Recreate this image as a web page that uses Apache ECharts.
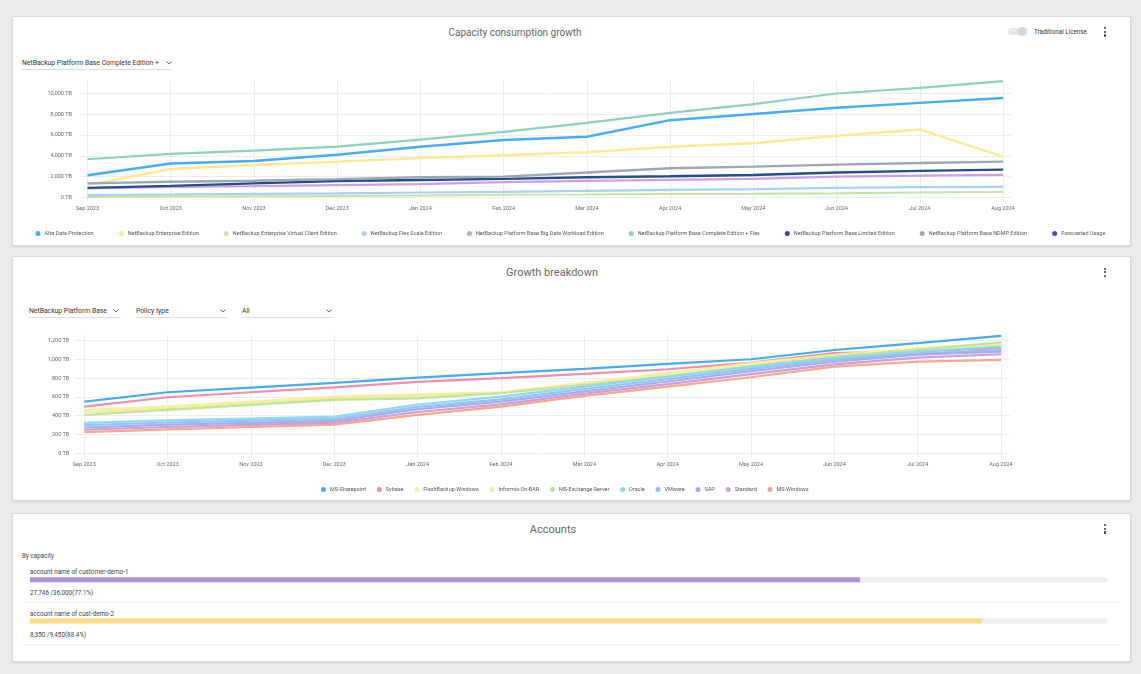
<!DOCTYPE html>
<html>
<head>
<meta charset="utf-8">
<script src="https://cdn.jsdelivr.net/npm/echarts@6/dist/echarts.min.js"></script>
<style>
  body { margin: 0; background: #ebebeb; font-family: Roboto, 'Noto Sans', sans-serif; }
  #page { position: relative; width: 1141px; height: 674px; overflow: hidden; }
  .card { position: absolute; left: 12px; width: 1117px; background: #fff; border: 1px solid #d8d8d8; box-shadow: 0 1px 2px rgba(0,0,0,0.10); }
  .title { position: absolute; color: #666; white-space: nowrap; transform: translate(-50%, -50%); }
  .kebab { position: absolute; width: 3px; }
  .kebab i { display: block; width: 2.4px; height: 2.4px; border-radius: 50%; background: #333; margin-bottom: 1.2px; }
  .dd { position: absolute; height: 11px; line-height: 10px; font-size: 6.8px; color: #333; border-bottom: 1px solid #dedede; white-space: nowrap; }
  .dd svg { position: absolute; top: 3px; }
  .txt { position: absolute; font-size: 6.3px; color: #444; white-space: nowrap; transform: translateY(-50%); }
  .sep { position: absolute; left: 22px; width: 1098px; height: 1px; background: #eeeeee; }
  #chart { position: absolute; left: 0; top: 0; width: 1141px; height: 674px; }
</style>
</head>
<body>
<div id="page">
  <div class="card" style="top:16px;height:228px"></div>
  <div class="card" style="top:256px;height:243px"></div>
  <div class="card" style="top:513px;height:147px"></div>

  <div class="title" style="left:515px;top:31.5px;font-size:10px">Capacity consumption growth</div>
  <div class="title" style="left:552px;top:272px;font-size:11px">Growth breakdown</div>
  <div class="title" style="left:553px;top:528.5px;font-size:11px">Accounts</div>

  <div style="position:absolute;left:1008px;top:28px;width:19px;height:7px;border-radius:4px;background:#e6e6e6"></div>
  <div style="position:absolute;left:1018px;top:27px;width:9px;height:9px;border-radius:50%;background:#d6d6d6"></div>
  <div class="txt" style="left:1034px;top:31.5px;color:#333">Traditional License</div>
  <div class="kebab" style="left:1104px;top:27px"><i></i><i></i><i></i></div>
  <div class="kebab" style="left:1104px;top:267.5px"><i></i><i></i><i></i></div>
  <div class="kebab" style="left:1104px;top:524px"><i></i><i></i><i></i></div>

  <div class="dd" style="left:22px;top:58px;width:150px">NetBackup Platform Base Complete Edition +<svg width="6" height="4" style="left:144px"><polyline points="0.5,0.5 3,3 5.5,0.5" fill="none" stroke="#555" stroke-width="0.9"/></svg></div>
  <div class="dd" style="left:29px;top:306px;width:92px">NetBackup Platform Base<svg width="6" height="4" style="left:84px"><polyline points="0.5,0.5 3,3 5.5,0.5" fill="none" stroke="#555" stroke-width="0.9"/></svg></div>
  <div class="dd" style="left:136px;top:306px;width:92px">Policy type<svg width="6" height="4" style="left:84px"><polyline points="0.5,0.5 3,3 5.5,0.5" fill="none" stroke="#555" stroke-width="0.9"/></svg></div>
  <div class="dd" style="left:242px;top:306px;width:92px">All<svg width="6" height="4" style="left:84px"><polyline points="0.5,0.5 3,3 5.5,0.5" fill="none" stroke="#555" stroke-width="0.9"/></svg></div>

  <div class="txt" style="left:22px;top:556px">By capacity</div>
  <div id="accountText"></div>

  <div id="chart"></div>
</div>

<script>
// months on both line charts
const months = ['Sep 2023', 'Oct 2023', 'Nov 2023', 'Dec 2023', 'Jan 2024', 'Feb 2024',
  'Mar 2024', 'Apr 2024', 'May 2024', 'Jun 2024', 'Jul 2024', 'Aug 2024']

// capacity consumption growth (TB)
const altaDataProtection = [2150, 3270, 3500, 4100, 4890, 5530, 5850, 7440, 8020, 8620, 9100, 9580]
const enterpriseEdition = [1190, 2740, 3130, 3450, 3800, 4060, 4350, 4890, 5210, 5940, 6550, 3930]
const enterpriseVirtualClient = [60, 100, 120, 150, 190, 260, 290, 330, 370, 420, 480, 520]
const flexScaleEdition = [220, 290, 340, 390, 480, 550, 640, 740, 800, 930, 1000, 1030]
const bigDataWorkload = [870, 1030, 1090, 1190, 1290, 1480, 1600, 1700, 1790, 2010, 2110, 2170]
const completeEditionFlex = [3680, 4190, 4510, 4900, 5570, 6320, 7180, 8140, 8980, 10000, 10540, 11200]
const limitedEdition = [930, 1120, 1360, 1580, 1690, 1790, 1950, 2050, 2170, 2400, 2560, 2680]
const ndmpEdition = [1360, 1510, 1610, 1770, 1950, 2010, 2400, 2820, 2970, 3160, 3320, 3450]
const forecastedUsage = []

// growth breakdown by policy type (TB)
const msSharepoint = [550, 650, 700, 750, 805, 853, 900, 952, 1002, 1100, 1173, 1250]
const sybase = [497, 597, 650, 703, 760, 800, 845, 895, 966, 1066, 1085, 1120]
const flashBackupWindows = [460, 500, 550, 603, 627, 650, 750, 855, 960, 1048, 1120, 1170]
const informixOnBar = [435, 480, 530, 585, 608, 645, 740, 835, 940, 1040, 1110, 1160]
const msExchangeServer = [408, 462, 515, 568, 586, 640, 728, 817, 923, 1030, 1101, 1183]
const oracle = [325, 350, 370, 390, 520, 603, 710, 817, 923, 1013, 1083, 1137]
const vmware = [300, 328, 348, 367, 495, 575, 685, 790, 900, 995, 1065, 1100]
const sap = [275, 305, 325, 345, 470, 550, 660, 765, 875, 975, 1050, 1083]
const standard = [252, 280, 302, 325, 440, 522, 635, 737, 843, 948, 1020, 1055]
const msWindows = [225, 255, 280, 305, 410, 497, 611, 710, 810, 923, 977, 995]

// accounts by capacity
const accountNames = ['account name of customer-demo-1', 'account name of cust-demo-2']
const accountUsed = [27746, 8350]
const accountCapacity = [36000, 9450]
const accountColors = ['#a994dc', '#fbdc84']

const capacitySeries = [
  { name: 'Alta Data Protection', data: altaDataProtection, color: '#47adf2', width: 2.5 },
  { name: 'NetBackup Enterprise Edition', data: enterpriseEdition, color: '#fbe993', width: 2.5 },
  { name: 'NetBackup Enterprise Virtual Client Edition', data: enterpriseVirtualClient, color: '#c9e3a6', width: 2 },
  { name: 'NetBackup Flex Scale Edition', data: flexScaleEdition, color: '#a9d1f7', width: 2.2 },
  { name: 'NetBackup Platform Base Big Data Workload Edition', data: bigDataWorkload, color: '#cf9fe6', width: 2.2 },
  { name: 'NetBackup Platform Base Complete Edition + Flex', data: completeEditionFlex, color: '#8fd0c2', width: 2.2 },
  { name: 'NetBackup Platform Base Limited Edition', data: limitedEdition, color: '#23508c', width: 2.4 },
  { name: 'NetBackup Platform Base NDMP Edition', data: ndmpEdition, color: '#9ea8b2', width: 2.4 },
  { name: 'Forecasted Usage', data: forecastedUsage, color: '#5b3cc8', width: 2 }
]

const policySeries = [
  { name: 'MS-Sharepoint', data: msSharepoint, color: '#45acf2' },
  { name: 'Sybase', data: sybase, color: '#ee8fb0' },
  { name: 'FlashBackup-Windows', data: flashBackupWindows, color: '#fcee9c' },
  { name: 'Informix-On-BAR', data: informixOnBar, color: '#eaf09c' },
  { name: 'MS-Exchange-Server', data: msExchangeServer, color: '#c2e3a0' },
  { name: 'Oracle', data: oracle, color: '#90d8ee' },
  { name: 'VMware', data: vmware, color: '#92c5f4' },
  { name: 'SAP', data: sap, color: '#a7ade8' },
  { name: 'Standard', data: standard, color: '#cb9ee2' },
  { name: 'MS-Windows', data: msWindows, color: '#f6a88e' }
]

// account text rows
let html = ''
accountNames.forEach(function (name, i) {
  const base = 572 + i * 42
  const pct = (accountUsed[i] / accountCapacity[i] * 100).toFixed(1)
  html += '<div class="txt" style="left:30px;top:' + base + 'px">' + name + '</div>'
  html += '<div class="txt" style="left:30px;top:' + (base + 21) + 'px">' +
    accountUsed[i].toLocaleString('en-US') + ' /' + accountCapacity[i].toLocaleString('en-US') + '(' + pct + '%)</div>'
  html += '<div class="sep" style="top:' + (base + 30) + 'px"></div>'
})
document.getElementById('accountText').innerHTML = html

const gridLine = '#ececec'
const labelColor = '#666'

function tb (v) {
  return v.toLocaleString('en-US') + ' TB'
}

function lineSeries (list, axis) {
  return list.map(function (s) {
    return {
      name: s.name,
      type: 'line',
      xAxisIndex: axis,
      yAxisIndex: axis,
      data: s.data,
      symbol: 'none',
      color: s.color,
      lineStyle: { width: s.width || 2.2, color: s.color }
    }
  })
}

const chart = echarts.init(document.getElementById('chart'))
chart.setOption({
  animation: false,
  textStyle: { fontFamily: 'Roboto' },
  grid: [
    { left: 80, right: 130, top: 80, bottom: 476.5 },
    { left: 87.5, right: 138, top: 80, bottom: 476.5 },
    { left: 75, right: 131, top: 335, bottom: 220.7 },
    { left: 84.3, right: 140, top: 335, bottom: 220.7 },
    { left: 30, right: 34, top: 559, bottom: 32.4 }
  ],
  xAxis: [
    { gridIndex: 0, type: 'category', data: months, show: false },
    {
      gridIndex: 1, type: 'category', data: months, boundaryGap: false,
      axisLine: { show: false },
      axisTick: { show: true, length: 4, lineStyle: { color: gridLine } },
      axisLabel: { fontSize: 5.5, color: labelColor, margin: 8 },
      splitLine: { show: true, lineStyle: { color: gridLine } }
    },
    { gridIndex: 2, type: 'category', data: months, show: false },
    {
      gridIndex: 3, type: 'category', data: months, boundaryGap: false,
      axisLine: { show: false },
      axisTick: { show: true, length: 4, lineStyle: { color: gridLine } },
      axisLabel: { fontSize: 5.5, color: labelColor, margin: 8 },
      splitLine: { show: true, lineStyle: { color: gridLine } }
    },
    { gridIndex: 4, type: 'value', min: 0, max: 100, show: false }
  ],
  yAxis: [
    {
      gridIndex: 0, type: 'value', min: 0, max: 11300, interval: 2000,
      axisLabel: { show: false }, axisLine: { show: false }, axisTick: { show: false },
      splitLine: { show: true, showMaxLine: false, lineStyle: { color: gridLine } }
    },
    {
      gridIndex: 1, type: 'value', min: 0, max: 11300, interval: 2000,
      axisLine: { show: false }, axisTick: { show: false }, splitLine: { show: false },
      axisLabel: { formatter: tb, fontSize: 5.5, color: labelColor, margin: 15.5, showMaxLabel: false }
    },
    {
      gridIndex: 2, type: 'value', min: 0, max: 1260, interval: 200,
      axisLabel: { show: false }, axisLine: { show: false }, axisTick: { show: false },
      splitLine: { show: true, showMaxLine: false, lineStyle: { color: gridLine } }
    },
    {
      gridIndex: 3, type: 'value', min: 0, max: 1260, interval: 200,
      axisLine: { show: false }, axisTick: { show: false }, splitLine: { show: false },
      axisLabel: { formatter: tb, fontSize: 5.5, color: labelColor, margin: 15, showMaxLabel: false }
    },
    { gridIndex: 4, type: 'category', data: accountNames, inverse: true, show: false }
  ],
  legend: [
    {
      data: capacitySeries.map(function (s) { return s.name }),
      left: 35.5, top: 230.5, padding: 0, icon: 'circle', itemWidth: 5, itemHeight: 5, itemGap: 25,
      textStyle: { fontSize: 5.5, color: '#555', padding: [0, 0, 0, -1] }
    },
    {
      data: policySeries.map(function (s) { return s.name }),
      left: 321, top: 486.5, padding: 0, icon: 'circle', itemWidth: 5, itemHeight: 5, itemGap: 10.8,
      textStyle: { fontSize: 5.5, color: '#555', padding: [0, 0, 0, -1] }
    }
  ],
  series: lineSeries(capacitySeries, 1)
    .concat(lineSeries(policySeries, 3))
    .concat([{
      type: 'bar',
      xAxisIndex: 4,
      yAxisIndex: 4,
      barWidth: 5,
      showBackground: true,
      backgroundStyle: { color: '#eeeeee' },
      data: accountUsed.map(function (v, i) {
        return { value: v / accountCapacity[i] * 100, itemStyle: { color: accountColors[i] } }
      })
    }])
})
</script>
</body>
</html>
